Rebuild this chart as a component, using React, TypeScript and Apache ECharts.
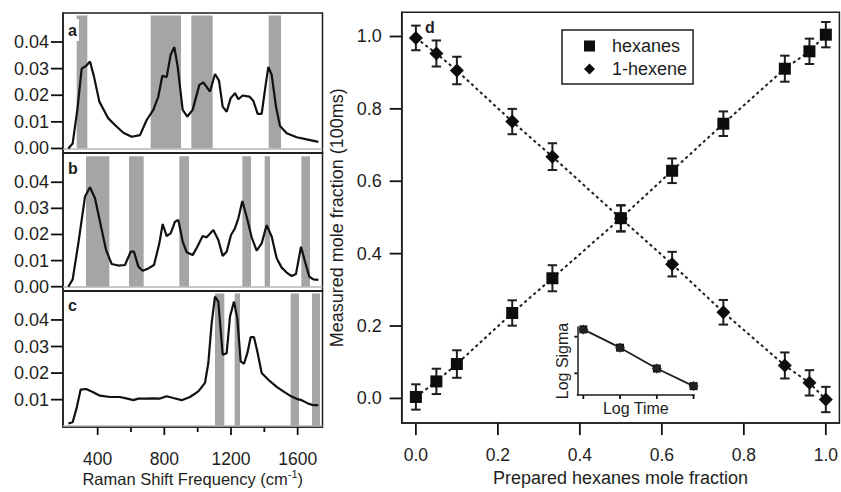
import React, { useEffect, useRef } from "react";
import * as echarts from "echarts";

// ---------- Raman spectra (left panels) ----------
const shiftA = [224, 250, 278, 304, 330, 354, 378, 410, 464, 504, 554, 604, 654, 694, 734, 764, 788, 814, 838, 860, 880, 910, 938, 970, 1010, 1034, 1074, 1104, 1128, 1150, 1174, 1198, 1224, 1244, 1270, 1310, 1334, 1360, 1384, 1408, 1424, 1444, 1470, 1494, 1534, 1594, 1654, 1724];
const intensityA = [0.0, 0.0019, 0.0145, 0.030, 0.031, 0.0327, 0.027, 0.0176, 0.0113, 0.0088, 0.0059, 0.0044, 0.005, 0.0107, 0.0145, 0.0195, 0.0273, 0.0268, 0.0352, 0.0381, 0.0308, 0.0145, 0.012, 0.0145, 0.0239, 0.0248, 0.0214, 0.028, 0.0255, 0.0157, 0.0138, 0.0189, 0.0208, 0.0185, 0.0199, 0.0195, 0.0179, 0.013, 0.013, 0.0239, 0.0306, 0.0277, 0.0157, 0.0084, 0.0057, 0.0042, 0.0034, 0.0025];

const shiftB = [224, 250, 284, 324, 354, 384, 414, 450, 484, 524, 564, 598, 618, 644, 670, 704, 738, 770, 790, 814, 838, 864, 884, 910, 934, 970, 998, 1030, 1054, 1094, 1124, 1150, 1174, 1200, 1224, 1244, 1268, 1294, 1324, 1354, 1384, 1414, 1444, 1474, 1504, 1534, 1564, 1590, 1620, 1644, 1670, 1694, 1724];
const intensityB = [0.0, 0.0028, 0.0166, 0.0345, 0.0381, 0.0339, 0.0249, 0.0141, 0.0087, 0.0081, 0.0083, 0.0134, 0.0134, 0.0077, 0.0061, 0.007, 0.0083, 0.0166, 0.024, 0.0194, 0.0204, 0.0249, 0.0256, 0.0173, 0.0132, 0.0121, 0.0153, 0.0194, 0.0189, 0.0217, 0.0179, 0.0118, 0.0134, 0.0198, 0.0224, 0.0262, 0.0328, 0.0268, 0.0189, 0.0138, 0.0166, 0.0236, 0.0192, 0.0109, 0.0073, 0.0054, 0.0041, 0.0049, 0.0153, 0.0096, 0.0038, 0.0028, 0.0026];

const shiftC = [224, 250, 274, 298, 330, 364, 414, 474, 534, 584, 614, 644, 684, 734, 774, 814, 854, 904, 954, 1004, 1044, 1064, 1084, 1104, 1124, 1150, 1174, 1194, 1218, 1238, 1258, 1278, 1298, 1318, 1338, 1358, 1384, 1424, 1474, 1514, 1554, 1594, 1624, 1664, 1694, 1724];
const intensityC = [0.001, 0.0015, 0.0069, 0.0138, 0.014, 0.0131, 0.0115, 0.011, 0.011, 0.0103, 0.0098, 0.0104, 0.0104, 0.0105, 0.0104, 0.0113, 0.0106, 0.0098, 0.011, 0.0131, 0.0163, 0.0238, 0.0388, 0.0488, 0.0469, 0.0269, 0.0275, 0.0413, 0.0469, 0.0406, 0.0244, 0.0235, 0.0275, 0.0335, 0.0335, 0.0281, 0.02, 0.0175, 0.0148, 0.0131, 0.0115, 0.0103, 0.0098, 0.0085, 0.0079, 0.0079];

const bandsA = [[274, 338], [718, 900], [962, 1090], [1426, 1500]];
const bandsB = [[330, 470], [588, 676], [890, 948], [1268, 1320], [1402, 1434], [1622, 1674]];
const bandsC = [[1104, 1160], [1222, 1254], [1558, 1608], [1686, 1734]];
const bandTop = 0.05;

const spectrumTicks = [0, 0.01, 0.02, 0.03, 0.04];
const spectrumTicksC = [0.01, 0.02, 0.03, 0.04];
const shiftMajorTicks = [400, 800, 1200, 1600];
const shiftMinorTicks = [600, 1000, 1400];

// ---------- Mole fraction (panel d) ----------
const prepared = [0, 0.05, 0.1, 0.235, 0.333, 0.5, 0.625, 0.75, 0.9, 0.96, 1.0];
const hexanes = [0.004, 0.047, 0.095, 0.236, 0.332, 0.498, 0.629, 0.759, 0.911, 0.959, 1.005];
const hexanesErr = [0.035, 0.035, 0.038, 0.035, 0.036, 0.036, 0.034, 0.034, 0.036, 0.035, 0.035];
const hexene = [0.996, 0.953, 0.906, 0.765, 0.668, 0.497, 0.371, 0.238, 0.091, 0.043, -0.003];
const hexeneErr = [0.034, 0.036, 0.038, 0.035, 0.037, 0.036, 0.034, 0.034, 0.036, 0.035, 0.035];
const fractionTicks = [0, 0.2, 0.4, 0.6, 0.8, 1.0];

// ---------- inset ----------
const logTime = [1, 2, 3, 4];
const logSigma = [2.2, 1.7, 1.13, 0.65];
const insetXTicks = [1, 2, 3, 4];
const insetYTicks = [1, 2];

const FONT = '"Liberation Sans", Arial, Helvetica, sans-serif';
const INK = "#1e1e1e";
const BAND = "#a5a5a5";

function pairs(xs: number[], ys: number[]) {
  return xs.map((x, i) => [x, ys[i]]);
}

function bandAreas(b: number[][]) {
  return b.map(([a, c]) => [{ xAxis: a, yAxis: 0 }, { xAxis: c, yAxis: bandTop }]);
}

export default function App() {
  const ref = useRef<HTMLDivElement>(null);
  useEffect(() => {
    if (!ref.current) return;
    const chart = echarts.init(ref.current, undefined, { renderer: "svg" });

    const leftGrid = { left: 63, width: 259.5 };
    const grids = [
      { ...leftGrid, top: 13, height: 140 },
      { ...leftGrid, top: 153, height: 138 },
      { ...leftGrid, top: 291, height: 136 },
      { left: 401.7, top: 12.3, width: 441.3, height: 416 },
      { left: 577.3, top: 327, width: 117, height: 68 },
    ].map((g, i) => ({
      ...g,
      show: i < 4,
      borderColor: INK,
      borderWidth: 1.5,
    }));

    const yLabelStyle = { fontSize: 18, color: INK, fontFamily: FONT };
    const xLabelStyle = { fontSize: 17.5, color: INK, fontFamily: FONT };
    const axisLn = () => ({ show: true, onZero: false, lineStyle: { color: INK, width: 1.5 } });

    const shiftMin = 192;
    const shiftMax = 1749;
    const yMinA = -0.0017, yMaxA = 0.0509;
    const yMinB = -0.00165, yMaxB = 0.0512;
    const yMinC = -0.0003, yMaxC = 0.0509;
    const fracXMin = -0.0346, fracXMax = 1.0331;
    const fracYMin = -0.0682, fracYMax = 1.0668;
    const insXMin = 0.836, insXMax = 4.02;
    const insYMin = 0.407, insYMax = 2.265;

    const xAxis: any[] = [
      { gridIndex: 0, type: "value", position: "bottom", min: shiftMin, max: shiftMax, axisLine: axisLn(), axisTick: { show: false }, axisLabel: { show: false }, splitLine: { show: false } },
      { gridIndex: 1, type: "value", position: "bottom", min: shiftMin, max: shiftMax, axisLine: axisLn(), axisTick: { show: false }, axisLabel: { show: false }, splitLine: { show: false } },
      {
        gridIndex: 2, type: "value", position: "bottom", min: shiftMin, max: shiftMax,
        axisLine: axisLn(), splitLine: { show: false },
        axisTick: { show: false },
        axisLabel: { ...xLabelStyle, margin: 23, customValues: shiftMajorTicks, formatter: (v: number) => String(v) },
        name: "Raman Shift Frequency (cm{sup|-1})",
        nameLocation: "middle",
        nameGap: 40,
        nameTextStyle: {
          fontSize: 16.5, color: INK, fontFamily: FONT, verticalAlign: "top",
          rich: { sup: { fontSize: 11, color: INK, fontFamily: FONT, verticalAlign: "top", padding: [0, 0, 9, 0] } },
        },
      },
      {
        gridIndex: 3, type: "value", position: "bottom", min: fracXMin, max: fracXMax,
        axisLine: axisLn(), splitLine: { show: false },
        axisTick: { show: false },
        axisLabel: { ...xLabelStyle, margin: 23, customValues: fractionTicks, formatter: (v: number) => v.toFixed(1) },
        name: "Prepared hexanes mole fraction",
        nameLocation: "middle",
        nameGap: 43,
        nameTextStyle: { fontSize: 18, color: INK, fontFamily: FONT, verticalAlign: "top" },
      },
      {
        gridIndex: 4, type: "value", position: "bottom", min: insXMin, max: insXMax,
        axisLine: axisLn(), splitLine: { show: false },
        axisTick: { show: false },
        axisLabel: { show: false },
        name: "Log Time",
        nameLocation: "middle",
        nameGap: 5,
        nameTextStyle: { fontSize: 16, color: INK, fontFamily: FONT, verticalAlign: "top" },
      },
    ];

    const spectrumY = (gridIndex: number, min: number, max: number, ticks: number[]) => ({
      gridIndex, type: "value", position: "left", min, max,
      axisLine: axisLn(), splitLine: { show: false },
      axisTick: { show: false },
      axisLabel: { ...yLabelStyle, margin: 14, customValues: ticks, formatter: (v: number) => v.toFixed(2) },
    });

    const yAxis: any[] = [
      spectrumY(0, yMinA, yMaxA, spectrumTicks),
      spectrumY(1, yMinB, yMaxB, spectrumTicks),
      spectrumY(2, yMinC, yMaxC, spectrumTicksC),
      {
        gridIndex: 3, type: "value", position: "left", min: fracYMin, max: fracYMax,
        axisLine: axisLn(), splitLine: { show: false },
        axisTick: { show: false },
        axisLabel: { ...yLabelStyle, margin: 20, customValues: fractionTicks, formatter: (v: number) => v.toFixed(1) },
        name: "Measured mole fraction (100ms)",
        nameLocation: "middle",
        nameGap: 51,
        nameTextStyle: { fontSize: 18, color: INK, fontFamily: FONT },
      },
      {
        gridIndex: 4, type: "value", position: "left", min: insYMin, max: insYMax,
        axisLine: axisLn(), splitLine: { show: false },
        axisTick: { show: false },
        axisLabel: { show: false },
        name: "Log Sigma",
        nameLocation: "middle",
        nameGap: 7,
        nameTextStyle: { fontSize: 16, color: INK, fontFamily: FONT },
      },
    ];

    // tick marks drawn through the axes' own scales
    const tickSeries = (xIdx: number, yIdx: number, pts: number[][], dx: number, dy: number) => ({
      type: "custom",
      xAxisIndex: xIdx,
      yAxisIndex: yIdx,
      silent: true,
      clip: false,
      z: 10,
      data: pts,
      encode: { x: 0, y: 1 },
      renderItem: (params: any, api: any) => {
        const p = api.coord([api.value(0), api.value(1)]);
        return {
          type: "line",
          shape: { x1: p[0], y1: p[1], x2: p[0] + dx, y2: p[1] + dy },
          style: { stroke: "#111", lineWidth: 1.8 },
        };
      },
    });

    const spectrumSeries = (idx: number, xIdx: number, xs: number[], ys: number[], bands: number[][]) => ({
      type: "line",
      xAxisIndex: xIdx,
      yAxisIndex: idx,
      data: pairs(xs, ys),
      showSymbol: false,
      symbol: "none",
      lineStyle: { color: "#111", width: 2.2 },
      z: 5,
      markArea: {
        silent: true,
        itemStyle: { color: BAND, opacity: 1 },
        data: bandAreas(bands),
      },
      markLine: {
        silent: true,
        symbol: "none",
        label: { show: false },
        lineStyle: { color: "#b5b5b5", type: "solid", width: 1.5 },
        data: [{ yAxis: 0 }],
      },
    });

    const errorSeries = (ys: number[], errs: number[]) => ({
      type: "custom",
      xAxisIndex: 3,
      yAxisIndex: 3,
      z: 6,
      data: prepared.map((x, i) => [x, ys[i] - errs[i], ys[i] + errs[i]]),
      encode: { x: 0, y: [1, 2] },
      renderItem: (params: any, api: any) => {
        const x = api.value(0);
        const lo = api.coord([x, api.value(1)]);
        const hi = api.coord([x, api.value(2)]);
        const w = 4.7;
        const style = { stroke: INK, lineWidth: 2 };
        return {
          type: "group",
          children: [
            { type: "line", shape: { x1: lo[0], y1: lo[1], x2: hi[0], y2: hi[1] }, style },
            { type: "line", shape: { x1: lo[0] - w, y1: lo[1], x2: lo[0] + w, y2: lo[1] }, style },
            { type: "line", shape: { x1: hi[0] - w, y1: hi[1], x2: hi[0] + w, y2: hi[1] }, style },
          ],
        };
      },
    });

    const series: any[] = [
      spectrumSeries(0, 0, shiftA, intensityA, bandsA),
      spectrumSeries(1, 1, shiftB, intensityB, bandsB),
      spectrumSeries(2, 2, shiftC, intensityC, bandsC),
      tickSeries(0, 0, spectrumTicks.map((v) => [shiftMin, v]), -12, 0),
      tickSeries(1, 1, spectrumTicks.map((v) => [shiftMin, v]), -12, 0),
      tickSeries(2, 2, spectrumTicksC.map((v) => [shiftMin, v]), -12, 0),
      tickSeries(2, 2, shiftMajorTicks.map((v) => [v, yMinC]), 0, 8),
      tickSeries(2, 2, shiftMinorTicks.map((v) => [v, yMinC]), 0, 5),
      tickSeries(3, 3, fractionTicks.map((v) => [v, fracYMin]), 0, 12),
      tickSeries(3, 3, fractionTicks.map((v) => [fracXMin, v]), -12, 0),
      tickSeries(4, 4, insetXTicks.map((v) => [v, insYMin]), 0, 4),
      tickSeries(4, 4, insetYTicks.map((v) => [insXMin, v]), -3, 0),
      {
        type: "line", name: "hexanes trend", xAxisIndex: 3, yAxisIndex: 3,
        data: pairs(prepared, hexanes), symbol: "none",
        lineStyle: { color: INK, width: 2, type: [3, 3] }, z: 3,
      },
      {
        type: "line", name: "1-hexene trend", xAxisIndex: 3, yAxisIndex: 3,
        data: pairs(prepared, hexene), symbol: "none",
        lineStyle: { color: INK, width: 2, type: [3, 3] }, z: 3,
      },
      errorSeries(hexanes, hexanesErr),
      errorSeries(hexene, hexeneErr),
      {
        type: "scatter", name: "hexanes", xAxisIndex: 3, yAxisIndex: 3,
        data: pairs(prepared, hexanes), symbol: "rect", symbolSize: 12,
        itemStyle: { color: "#0d0d0d", opacity: 1 }, z: 8,
      },
      {
        type: "scatter", name: "1-hexene", xAxisIndex: 3, yAxisIndex: 3,
        data: pairs(prepared, hexene), symbol: "diamond", symbolSize: 14,
        itemStyle: { color: "#0d0d0d", opacity: 1 }, z: 9,
      },
      {
        type: "line", xAxisIndex: 4, yAxisIndex: 4,
        data: pairs(logTime, logSigma), symbol: "rect", symbolSize: 8,
        lineStyle: { color: INK, width: 1.8 }, itemStyle: { color: "#111", opacity: 1 }, z: 5,
      },
      {
        type: "scatter", xAxisIndex: 4, yAxisIndex: 4,
        data: pairs(logTime, logSigma), symbol: "diamond", symbolSize: 10,
        itemStyle: { color: "#222", opacity: 1 }, z: 6,
      },
    ];

    const panelLabel = (text: string, left: number, top: number, bg: boolean) => ({
      type: "text",
      left,
      top,
      z: 100,
      style: {
        text,
        fill: INK,
        font: `bold 16px ${FONT}`,
        backgroundColor: bg ? "#fff" : undefined,
        padding: bg ? [3, 2, 3, 2] : 0,
      },
    });

    chart.setOption({
      animation: false,
      backgroundColor: "#fff",
      grid: grids,
      xAxis,
      yAxis,
      series,
      legend: {
        data: [
          { name: "hexanes", icon: "rect" },
          { name: "1-hexene", icon: "diamond" },
        ],
        orient: "vertical",
        left: 562,
        top: 30,
        itemWidth: 11,
        itemHeight: 11,
        itemGap: 5,
        padding: [7, 6, 6, 22],
        borderColor: INK,
        borderWidth: 1.5,
        backgroundColor: "#fff",
        selectedMode: false,
        itemStyle: { color: "#0d0d0d", opacity: 1 },
        textStyle: { fontSize: 18, color: INK, fontFamily: FONT, lineHeight: 18, padding: [0, 0, 0, 12] },
      },
      graphic: [
        panelLabel("a", 66, 19, true),
        panelLabel("b", 68, 160, false),
        panelLabel("c", 68, 297, false),
        panelLabel("d", 425, 19, false),
      ],
    });

    return () => chart.dispose();
  }, []);

  return (
    <div
      ref={ref}
      style={{ position: "fixed", left: 0, top: 0, width: 841, height: 492, background: "#fff" }}
    />
  );
}
